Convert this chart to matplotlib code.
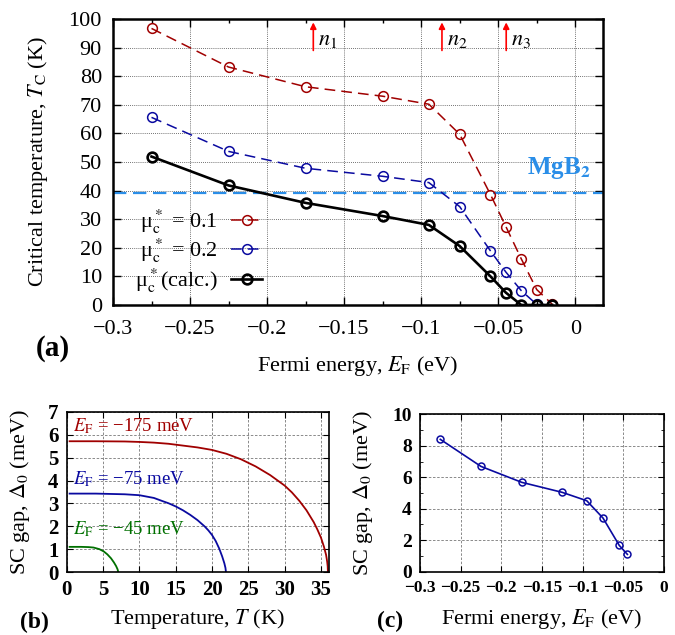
import numpy as np
import matplotlib.pyplot as plt
from matplotlib.ticker import MultipleLocator, FuncFormatter

plt.rcParams['font.family'] = ['Liberation Serif', 'DejaVu Serif']
plt.rcParams['mathtext.fontset'] = 'stix'

# ---- panel (a): Tc vs Fermi energy
fermi_a = [-0.275, -0.225, -0.175, -0.125, -0.095, -0.075, -0.055, -0.045, -0.035, -0.025, -0.015]
tc_mu01 = [96.7, 83.2, 76.3, 73.0, 70.2, 59.7, 38.6, 27.4, 16.1, 5.4, 0.3]
tc_mu02 = [65.6, 53.7, 47.8, 45.0, 42.8, 34.4, 18.9, 11.5, 5.0, 0.2, 0.0]
tc_calc = [51.9, 41.8, 35.7, 31.1, 28.0, 20.6, 10.0, 4.3, 0.0, 0.0, 0.0]
tc_mgb2 = 39.0
arrow_E = [-0.170, -0.0865, -0.0448]
arrow_lbl = [r'$n_1$', r'$n_2$', r'$n_3$']

# ---- panel (b): gap vs temperature
T_175 = [0.4, 4, 8, 10, 12, 14, 16, 18, 20, 22, 24, 26, 28, 30, 31, 32, 33, 34,
         34.5, 35, 35.4, 35.7, 35.85, 35.92, 35.95]
gap_175 = [5.72, 5.72, 5.71, 5.69, 5.66, 5.61, 5.53, 5.45, 5.34, 5.17, 4.93, 4.62,
           4.24, 3.78, 3.48, 3.12, 2.70, 2.18, 1.86, 1.50, 1.11, 0.75, 0.45, 0.25, 0.0]
T_75 = [0.4, 4, 8, 10, 12, 13.2, 14, 15, 16, 17, 18, 19, 19.5, 20, 20.5, 21, 21.4,
        21.7, 21.85, 21.92]
gap_75 = [3.43, 3.43, 3.40, 3.36, 3.24, 3.10, 3.01, 2.87, 2.70, 2.50, 2.27, 1.99,
          1.82, 1.62, 1.36, 1.02, 0.68, 0.38, 0.18, 0.0]
T_45 = [0.4, 2, 3, 3.7, 4.5, 5.1, 5.6, 6.1, 6.5, 6.8, 7.0, 7.1]
gap_45 = [1.10, 1.10, 1.09, 1.07, 1.00, 0.90, 0.77, 0.60, 0.42, 0.26, 0.12, 0.0]

# ---- panel (c): gap vs Fermi energy
fermi_c = [-0.275, -0.225, -0.175, -0.125, -0.095, -0.075, -0.055, -0.045]
gap_c = [8.41, 6.69, 5.68, 5.04, 4.51, 3.41, 1.67, 1.10]

RED = '#a00000'
BLUE = '#0a0aa0'
GREEN = '#007000'
SKY = '#2a8ee8'

def fmt(v, pos):
    return f'{v:g}'.replace('-', '\u2212')

fig = plt.figure(figsize=(6.75, 6.35), dpi=100)

ax = fig.add_axes([0.1674, 0.5197, 0.7259, 0.4504])
ax.axhline(tc_mgb2, color=SKY, ls=(0, (6, 3)), lw=1.6, zorder=2)
l1, = ax.plot(fermi_a, tc_mu01, color=RED, ls=(0, (7, 4)), lw=1.1, marker='o',
              ms=7, mfc='none', mec=RED, mew=1.1, zorder=3)
l2, = ax.plot(fermi_a, tc_mu02, color=BLUE, ls=(0, (7, 4)), lw=1.1, marker='o',
              ms=7, mfc='none', mec=BLUE, mew=1.1, zorder=3)
l3, = ax.plot(fermi_a, tc_calc, color='k', lw=1.9, marker='o',
              ms=7, mfc='none', mec='k', mew=1.9, zorder=4)
for x, lab in zip(arrow_E, arrow_lbl):
    ax.annotate('', xy=(x, 98.8), xytext=(x, 89.0),
                arrowprops=dict(arrowstyle='-|>', color='red', lw=1.2,
                                mutation_scale=9, shrinkA=0, shrinkB=0))
    ax.text(x + 0.003, 92.5, lab, fontsize=16, va='center', ha='left')
ax.text(0.0096, 47.8, r'MgB$_\mathbf{2}$', color=SKY, fontsize=18,
        fontweight='bold', ha='right', va='center')
ax.legend([l1, l2, l3],
          [r'μ$^*_{\rm c}$ = 0.1', r'μ$^*_{\rm c}$ = 0.2', r'μ$^*_{\rm c}$(calc.)'],
          loc='lower left', bbox_to_anchor=(0.045, 0.035), borderaxespad=0,
          borderpad=0, frameon=False, markerfirst=False, fontsize=16,
          handlelength=1.4, handletextpad=0.6, labelspacing=0.06)
ax.set_xlim(-0.3, 0.018)
ax.set_ylim(0, 100)
ax.xaxis.set_major_locator(MultipleLocator(0.05))
ax.xaxis.set_minor_locator(MultipleLocator(0.025))
ax.yaxis.set_major_locator(MultipleLocator(10))
ax.xaxis.set_major_formatter(FuncFormatter(fmt))
ax.tick_params(which='both', direction='in', top=True, right=True, labelsize=16)
ax.tick_params(which='major', length=6, width=1)
ax.tick_params(which='minor', length=3, width=1)
ax.tick_params(axis='x', pad=11)
ax.tick_params(axis='y', pad=8)
ax.grid(True, color='#444444', ls=(0, (1, 1.5)), lw=0.6)
for s in ax.spines.values():
    s.set_linewidth(1.8)
ax.set_xlabel(r'Fermi energy, $E_{\rm F}$ (eV)', fontsize=16)
ax.set_ylabel(r'Critical temperature, $T_{\rm C}$ (K)', fontsize=16)
ax.xaxis.label.set_va('center')
ax.yaxis.label.set_va('center')
ax.xaxis.set_label_coords(0.5, (305 - 366) / 286)
ax.yaxis.set_label_coords((38 - 113) / 490, 0.5)
fig.text(53 / 675, 1 - 349 / 635, '(a)', fontsize=21, fontweight='bold', ha='center', va='center')

# panel (b)
axb = fig.add_axes([0.0988, 0.0992, 0.3886, 0.252])
axb.plot(T_175, gap_175, color=RED, lw=1.3)
axb.plot(T_75, gap_75, color=BLUE, lw=1.3)
axb.plot(T_45, gap_45, color=GREEN, lw=1.3)
axb.text(0.9, 6.14, r'$E_{\rm F}$ = −175 meV', color=RED, fontsize=13.5, va='baseline')
axb.text(0.9, 3.85, r'$E_{\rm F}$ = −75 meV', color=BLUE, fontsize=13.5, va='baseline')
axb.text(0.9, 1.63, r'$E_{\rm F}$ = −45 meV', color=GREEN, fontsize=13.5, va='baseline')
axb.set_xlim(0, 36.1)
axb.set_ylim(0, 7)
axb.xaxis.set_major_locator(MultipleLocator(5))
axb.yaxis.set_major_locator(MultipleLocator(1))
axb.tick_params(direction='in', top=True, right=True, labelsize=15, length=4, pad=6)
for t in axb.get_xticklabels() + axb.get_yticklabels():
    t.set_fontweight('bold')
axb.grid(True, color='#777777', ls=(0, (3, 2)), lw=0.6)
for s in axb.spines.values():
    s.set_linewidth(1.2)
axb.set_xlabel(r'Temperature, $T$ (K)', fontsize=16)
axb.set_ylabel(r'SC gap, $\Delta_0$ (meV)', fontsize=16)
axb.xaxis.label.set_va('center')
axb.yaxis.label.set_va('center')
axb.xaxis.set_label_coords(0.5, (571.7 - 619) / 160)
axb.yaxis.set_label_coords((20 - 66.7) / 262.3, 0.5)
fig.text(34 / 675, 1 - 622 / 635, '(b)', fontsize=17, fontweight='bold', ha='center', va='center')

# panel (c)
axc = fig.add_axes([0.6222, 0.0997, 0.3615, 0.2478])
axc.plot(fermi_c, gap_c, color=BLUE, lw=1.2, marker='o', ms=5, mfc='none', mec=BLUE, mew=1.1)
axc.set_xlim(-0.3, 0)
axc.set_ylim(0, 10)
axc.xaxis.set_major_locator(MultipleLocator(0.05))
axc.yaxis.set_major_locator(MultipleLocator(2))
axc.yaxis.set_minor_locator(MultipleLocator(1))
axc.xaxis.set_major_formatter(FuncFormatter(fmt))
axc.tick_params(which='both', direction='in', top=True, right=True, labelsize=14, pad=6)
axc.tick_params(axis='x', labelsize=12.5)
axc.tick_params(which='major', length=4)
axc.tick_params(which='minor', length=2.5)
for t in axc.get_xticklabels() + axc.get_yticklabels():
    t.set_fontweight('bold')
axc.grid(True, color='#777777', ls=(0, (3, 2)), lw=0.6)
for s in axc.spines.values():
    s.set_linewidth(1.2)
axc.set_xlabel(r'Fermi energy, $E_{\rm F}$ (eV)', fontsize=16)
axc.set_ylabel(r'SC gap, $\Delta_0$ (meV)', fontsize=16)
axc.xaxis.label.set_va('center')
axc.yaxis.label.set_va('center')
axc.xaxis.set_label_coords(0.5, (571.7 - 619) / 157.4)
axc.yaxis.set_label_coords((363 - 420) / 244, 0.5)
fig.text(390 / 675, 1 - 621 / 635, '(c)', fontsize=17, fontweight='bold', ha='center', va='center')

fig.savefig('out.png', dpi=100)
